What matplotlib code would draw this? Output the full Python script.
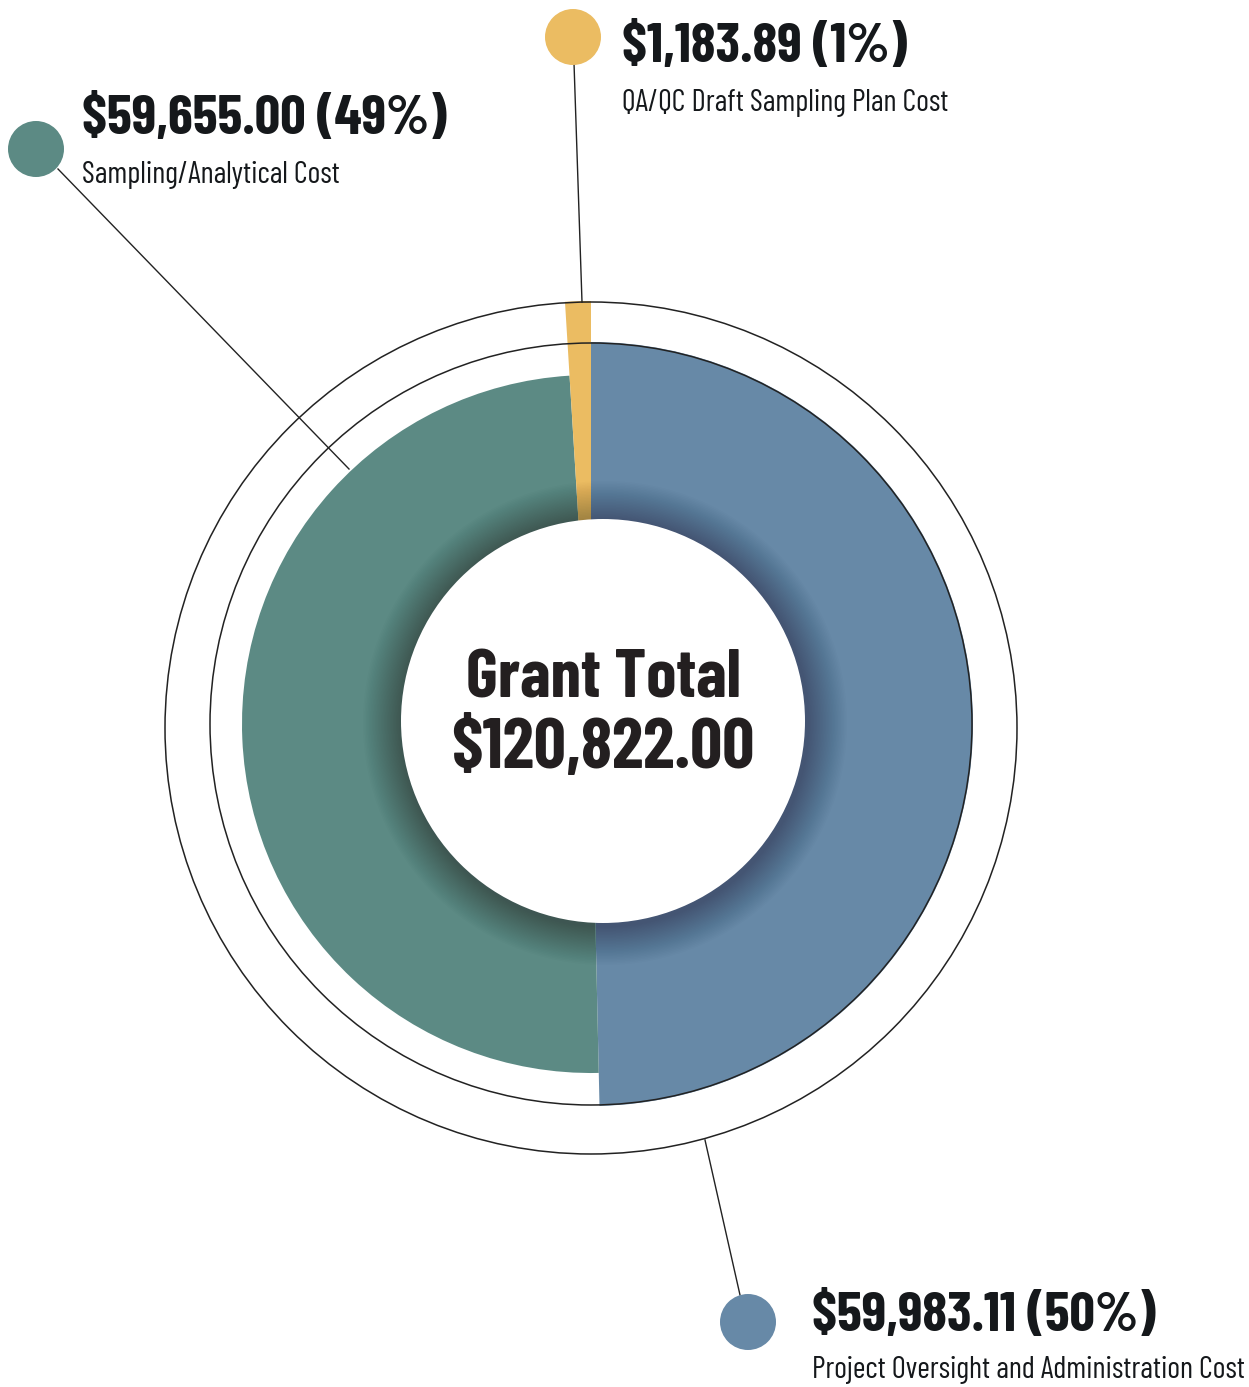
import matplotlib
matplotlib.use("Agg")
import matplotlib.pyplot as plt
from matplotlib.patches import Wedge, Circle

# ============================
# Grant budget breakdown donut
# ============================

categories = ["Project Oversight and Administration Cost",
              "Sampling/Analytical Cost",
              "QA/QC Draft Sampling Plan Cost"]
amounts = [59983.11, 59655.00, 1183.89]
grant_total = 120822.00
colors = ["#6789a7", "#5c8a84", "#ebbc62"]

W, H = 1249, 1387
fig = plt.figure(figsize=(W / 100, H / 100), dpi=100)
ax = fig.add_axes([0, 0, 1, 1])
ax.set_xlim(0, W)
ax.set_ylim(H, 0)  # pixel-like coords, y down
ax.set_aspect("equal")
ax.axis("off")

fam = ["Barlow Condensed", "DejaVu Sans"]
ink = "#15181b"

cx, cy = 591, 724
radii = [382, 349, 423]

# Slices, clockwise from 12 o'clock (y axis is flipped so angles increase clockwise)
start = 270
total = sum(amounts)
for amt, r, col in zip(amounts, radii, colors):
    span = amt / total * 360
    ax.add_patch(Wedge((cx, cy), r, start, start + span, facecolor=col,
                       edgecolor="none", zorder=2))
    start += span

# outer thin rings
ax.add_patch(Circle((591, 728), 426, fill=False, lw=1.1, ec="#222222", zorder=3))
ax.add_patch(Circle((cx, cy), 381, fill=False, lw=1.1, ec="#222222", zorder=3))

# soft shadow around the centre hole
hx, hy, hr = 603, 721, 202
for i in range(26):
    ax.add_patch(Circle((hx + 2, hy + 2), hr + 40 - i * 1.5, facecolor="black",
                        edgecolor="none", alpha=0.011, zorder=4))
ax.add_patch(Circle((hx, hy), hr, facecolor="white", edgecolor="none", zorder=5))

ax.text(hx, 698, "Grant Total", ha="center", va="baseline", fontsize=49,
        fontweight="bold", family=fam, color="#231f20", zorder=6)
ax.text(hx, 768, f"${grant_total:,.2f}", ha="center", va="baseline", fontsize=51,
        fontweight="bold", family=fam, color="#231f20", zorder=6)

# leader lines, dots and labels
dots = [(748, 1322), (36, 149), (573, 37)]
lines = [((740, 1295), (705, 1140)),
         ((58, 169), (349, 469)),
         ((574, 63), (582, 302))]
label_xy = [(812, 1331, 1378), (82, 134, 183), (622, 62, 111)]

for amt, col, cat, (dx, dy), (p0, p1), (lx, ly1, ly2) in zip(
        amounts, colors, categories, dots, lines, label_xy):
    ax.plot([p0[0], p1[0]], [p0[1], p1[1]], color="#222222", lw=1, zorder=3)
    ax.add_patch(Circle((dx, dy), 28, facecolor=col, edgecolor="none", zorder=3))
    pct = round(amt / grant_total * 100)
    ax.text(lx, ly1, f"${amt:,.2f} ({pct}%)", ha="left", va="baseline",
            fontsize=40.5, fontweight="bold", family=fam, color=ink)
    ax.text(lx, ly2, cat, ha="left", va="baseline", fontsize=22,
            fontweight="normal", family=fam, color=ink)

fig.savefig("out.png", dpi=100, facecolor="white")
